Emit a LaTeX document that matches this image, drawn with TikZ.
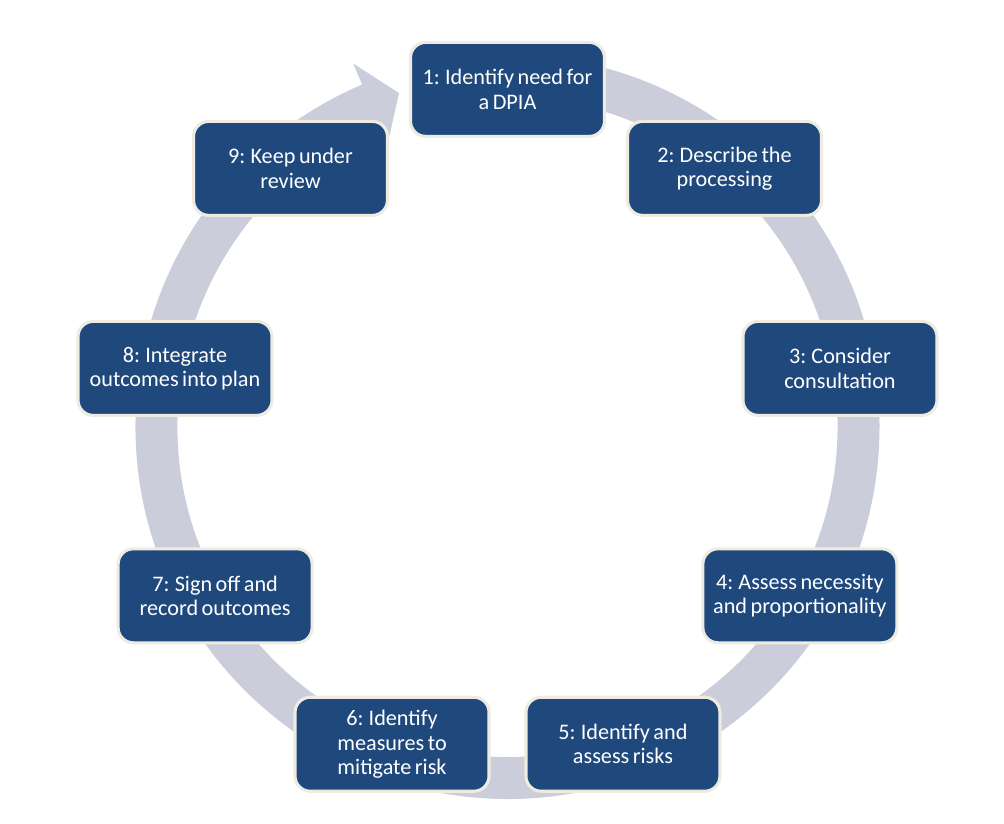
\documentclass[tikz,border=0pt]{standalone}
\usepackage{fontspec}
\setmainfont{Carlito}[WordSpace=0.7]
\usetikzlibrary{positioning}
\definecolor{stepblue}{RGB}{31,73,125}
\definecolor{stepedge}{RGB}{238,236,225}
\definecolor{ringgrey}{RGB}{203,206,218}
\tikzset{
    stage/.style={rectangle, rounded corners=0.38cm, fill=stepblue, draw=stepedge,
                  line width=2.2pt, minimum width=4.85cm, minimum height=2.35cm,
                  align=center, text=white, font=\fontsize{15.8}{17.2}\selectfont},
    ring/.style={fill=ringgrey},
}
\begin{document}
\begin{tikzpicture}

    \useasboundingbox (-12.6875,-9.925) rectangle (12.4125,10.675);

    % grey cycle arrow behind the stages
    \fill[ring] (85:9.3) arc[start angle=85, end angle=-247, radius=9.3cm]
        -- (-247:9.875) -- (-252:8.775) -- (-247:7.675) -- (-247:8.25)
        arc[start angle=-247, end angle=85, radius=8.25cm] -- cycle;

    % nine stages, clockwise from the top
    \node[stage] (identify) at (90:8.44) {1: Identify need for\\a DPIA};
    \node[stage] (describe) at (50:8.44) {2: Describe the\\processing};
    \node[stage] (consult) at (10:8.44) {3: Consider\\consultation};
    \node[stage] (assess) at (-30:8.44) {4: Assess necessity\\and proportionality};
    \node[stage] (risks) at (-70:8.44) {5: Identify and\\assess risks};
    \node[stage] (measures) at (-110:8.44) {6: Identify\\measures to\\mitigate risk};
    \node[stage] (signoff) at (-150:8.44) {7: Sign off and\\record outcomes};
    \node[stage] (integrate) at (-190:8.44) {8: Integrate\\outcomes into plan};
    \node[stage] (review) at (-230:8.44) {9: Keep under\\review};

\end{tikzpicture}
\end{document}
